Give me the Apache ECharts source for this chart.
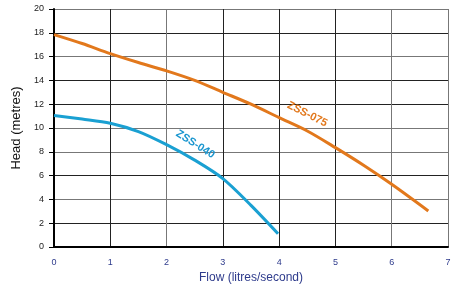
<!DOCTYPE html>
<html lang="en">
<head>
    <meta charset="UTF-8">
    <title>Pump curves</title>
    <script type="text/javascript" src="https://cdn.jsdelivr.net/npm/echarts@6/dist/echarts.min.js"></script>
</head>
<body style="margin:0;background:#fff;">
<div id="main" style="width: 456px; height: 286px;"></div>
<script type="text/javascript">
    // flow (l/s) and head (m)
    var flow075 = [0, 0.5, 1, 1.5, 2, 2.5, 3, 3.5, 4, 4.5, 5, 5.5, 6, 6.65];
    var head075 = [17.85, 17.1, 16.25, 15.5, 14.8, 14.0, 13.0, 12.0, 10.87, 9.75, 8.35, 6.87, 5.27, 3.03];
    var flow040 = [0, 0.5, 1, 1.5, 2, 2.5, 3, 3.5, 3.98];
    var head040 = [11.05, 10.75, 10.4, 9.7, 8.6, 7.3, 5.75, 3.5, 1.12];
    var xTicks = [0, 1, 2, 3, 4, 5, 6, 7];
    var yTicks = [0, 2, 4, 6, 8, 10, 12, 14, 16, 18, 20];

    function pairs(xs, ys) {
        var out = [];
        for (var i = 0; i < xs.length; i++) {
            out.push([xs[i], ys[i]]);
        }
        return out;
    }

    var font = 'Liberation Sans, Arial, sans-serif';

    var option = {
        animation: false,
        grid: {left: 54, right: 8, top: 9, bottom: 39, outerBoundsMode: 'none', containLabel: false},
        xAxis: {
            type: 'value',
            min: xTicks[0],
            max: xTicks[xTicks.length - 1],
            interval: 1,
            name: 'Flow (litres/second)',
            nameLocation: 'middle',
            nameGap: 25,
            nameTextStyle: {color: '#2e3b8c', fontSize: 12, fontFamily: font},
            axisLine: {show: true, lineStyle: {color: '#000', width: 2}},
            axisTick: {show: false},
            axisLabel: {color: '#2e3b8c', fontSize: 9, fontFamily: font, margin: 11},
            splitLine: {show: true, lineStyle: {color: ['#222', '#222', '#777', '#222', '#222', '#222', '#777', '#777'], width: 1}}
        },
        yAxis: {
            type: 'value',
            min: yTicks[0],
            max: yTicks[yTicks.length - 1],
            interval: 2,
            name: 'Head (metres)',
            nameLocation: 'middle',
            nameGap: 26,
            nameTextStyle: {color: '#111', fontSize: 13, fontFamily: font},
            axisLine: {show: true, lineStyle: {color: '#000', width: 2}},
            axisTick: {show: true, length: 5, inside: false, lineStyle: {color: '#000'}},
            axisLabel: {color: '#222', fontSize: 9, fontFamily: font, margin: 10},
            splitLine: {show: true, lineStyle: {color: ['#222', '#222', '#777', '#222', '#777', '#777', '#222', '#222', '#777', '#222', '#777'], width: 1}}
        },
        series: [
            {
                name: 'ZSS-075',
                type: 'line',
                smooth: 0.3,
                symbol: 'none',
                lineStyle: {color: '#e2781c', width: 3},
                data: pairs(flow075, head075),
                markPoint: {
                    symbol: 'circle',
                    symbolSize: 0,
                    label: {
                        show: true,
                        formatter: 'ZSS-075',
                        color: '#e2781c',
                        fontWeight: 'bold',
                        fontSize: 11,
                        fontFamily: font,
                        rotate: -27
                    },
                    data: [{coord: [4.5, 11.15]}]
                }
            },
            {
                name: 'ZSS-040',
                type: 'line',
                smooth: 0.3,
                symbol: 'none',
                lineStyle: {color: '#1aa0d2', width: 3},
                data: pairs(flow040, head040),
                markPoint: {
                    symbol: 'circle',
                    symbolSize: 0,
                    label: {
                        show: true,
                        formatter: 'ZSS-040',
                        color: '#1a96cf',
                        fontWeight: 'bold',
                        fontSize: 11,
                        fontFamily: font,
                        rotate: -32
                    },
                    data: [{coord: [2.51, 8.63]}]
                }
            }
        ]
    };

    var myChart = echarts.init(document.getElementById('main'));
    myChart.setOption(option);
</script>
</body>
</html>
